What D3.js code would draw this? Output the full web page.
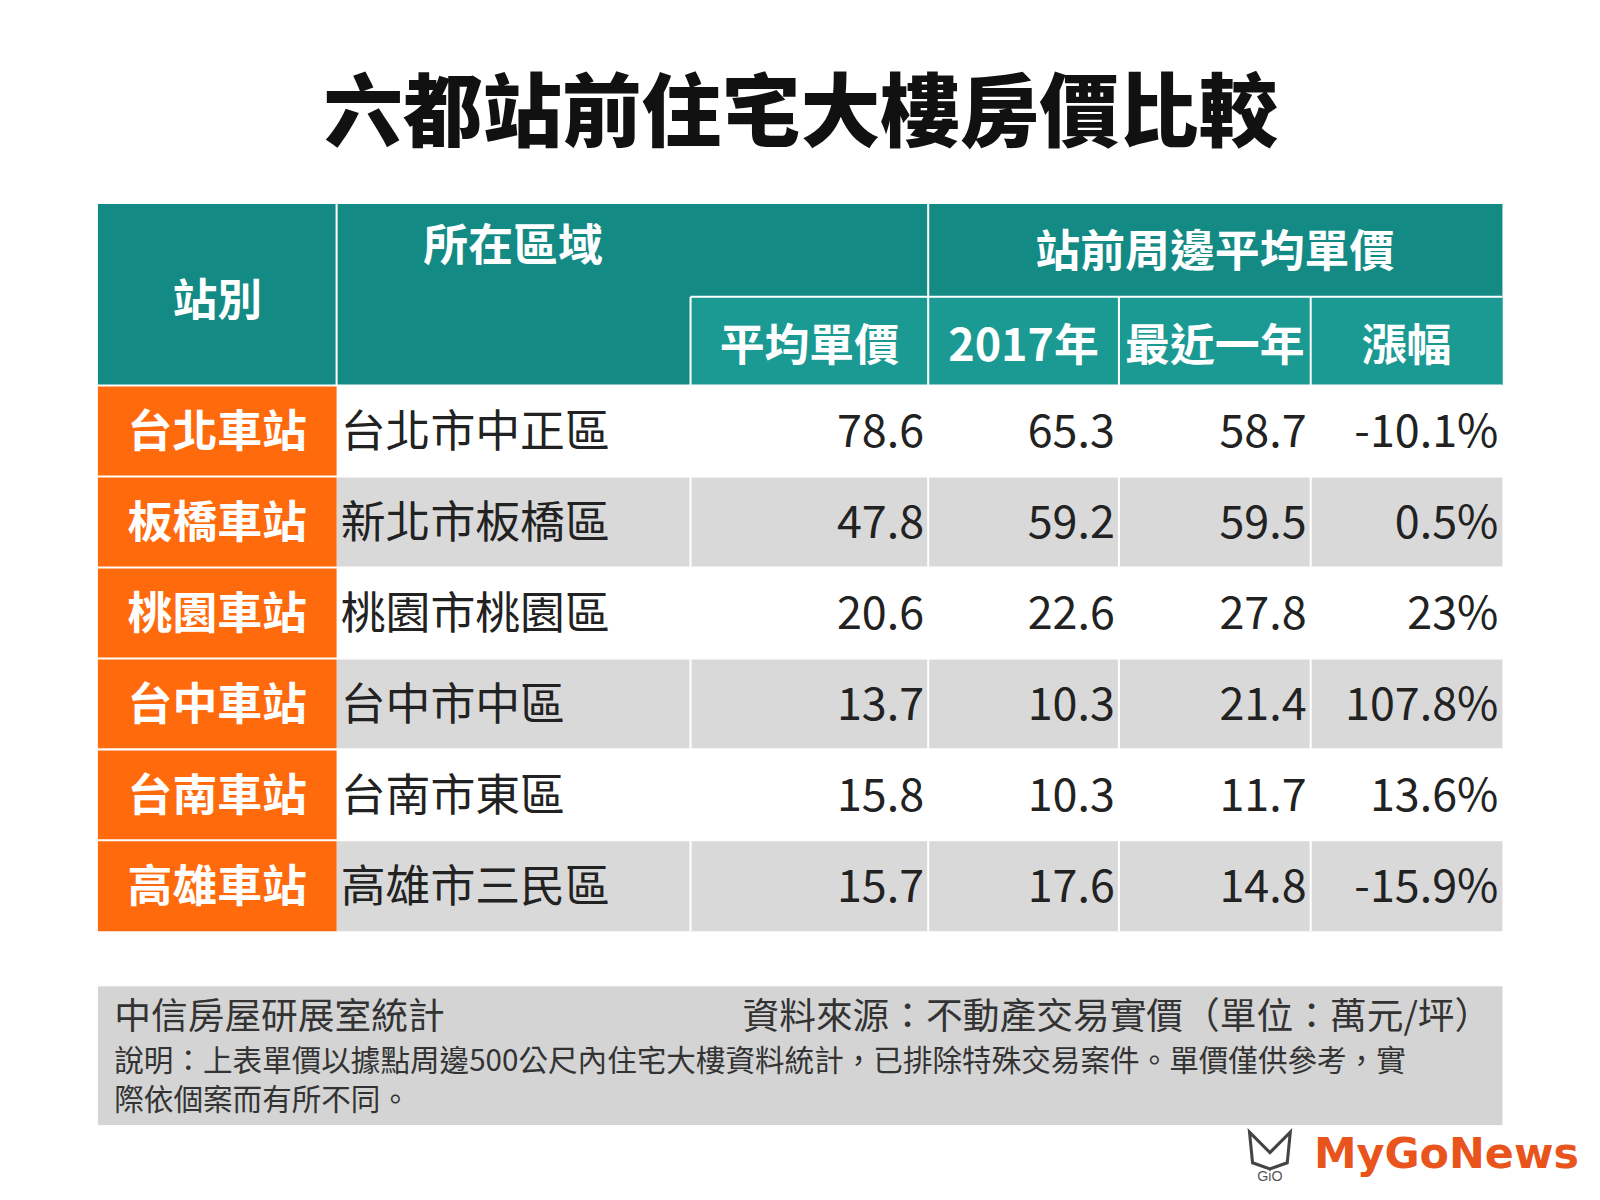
<!DOCTYPE html>
<html><head><meta charset="utf-8">
<script src="https://cdn.jsdelivr.net/npm/d3@7"></script>
<style>body{margin:0;background:#fff}</style></head>
<body><svg id="c" width="1600" height="1200"></svg>
<script>
const stations=["台北車站","板橋車站","桃園車站","台中車站","台南車站","高雄車站"];
const districts=["台北市中正區","新北市板橋區","桃園市桃園區","台中市中區","台南市東區","高雄市三民區"];
const avgPrice=["78.6","47.8","20.6","13.7","15.8","15.7"];
const price2017=["65.3","59.2","22.6","10.3","10.3","17.6"];
const priceRecent=["58.7","59.5","27.8","21.4","11.7","14.8"];
const change=["-10.1%","0.5%","23%","107.8%","13.6%","-15.9%"];
const colHeaders=["平均單價","2017年","最近一年","漲幅"];

const root=d3.select("#c");
const svg=root.append("g").attr("transform","scale(1.02)");
const F="'Noto Sans CJK TC','Noto Sans CJK SC',sans-serif";
const X0=96,X1=1473;
const colX=[96,330,677,910,1097,1285,1473];
const y=d3.scaleBand().domain(d3.range(stations.length)).range([378,913]).paddingInner(0);
const teal="#138a84", teal2="#1a9a93", orange="#ff6a0d", gray="#d9d9d9";

svg.append("text").attr("x",785).attr("y",137).attr("text-anchor","middle")
 .attr("font-family",F).attr("font-weight",900).attr("font-size",78).attr("fill","#111")
 .text("六都站前住宅大樓房價比較");

svg.append("rect").attr("x",X0).attr("y",200).attr("width",X1-X0).attr("height",178).attr("fill",teal);
svg.append("rect").attr("x",677).attr("y",291).attr("width",X1-677).attr("height",87).attr("fill",teal2);
const wl=(x1,y1,x2,y2)=>svg.append("line").attr("x1",x1).attr("y1",y1).attr("x2",x2).attr("y2",y2).attr("stroke","#fff").attr("stroke-width",2);
wl(330,200,330,378); wl(910,200,910,378); wl(910,291,X1,291); wl(677,291,677,378); wl(677,291,910,291);
wl(1097,291,1097,378); wl(1285,291,1285,378);
const ht=(x,yy,t,s)=>svg.append("text").attr("x",x).attr("y",yy).attr("text-anchor","middle").attr("font-family",F)
 .attr("font-weight",700).attr("font-size",s||44).attr("fill","#fff").text(t);
ht(213,310,"站別"); ht(503,256,"所在區域"); ht(1191,262,"站前周邊平均單價");
colHeaders.forEach((h,i)=>ht((colX[i+2]+colX[i+3])/2,354,h));

const rows=svg.selectAll("g.r").data(stations).join("g").attr("class","r")
 .attr("transform",(d,i)=>`translate(0,${y(i)})`);
rows.append("rect").attr("x",330).attr("width",X1-330).attr("height",y.bandwidth())
 .attr("fill",(d,i)=>i%2?gray:"#fff");
rows.append("rect").attr("x",X0).attr("width",234).attr("height",y.bandwidth()).attr("fill",orange);
rows.each(function(d,i){
  const g=d3.select(this);
  [677,910,1097,1285].forEach(x=>g.append("line").attr("x1",x).attr("x2",x).attr("y1",0).attr("y2",y.bandwidth())
    .attr("stroke",i%2?"#fff":"none").attr("stroke-width",2));
});
rows.append("line").attr("x1",X0).attr("x2",X1).attr("y1",0).attr("y2",0).attr("stroke","#fff").attr("stroke-width",2);
const cy=y.bandwidth()/2+16;
rows.append("text").attr("x",213).attr("y",cy).attr("text-anchor","middle").attr("font-family",F)
 .attr("font-weight",700).attr("font-size",44).attr("fill","#fff").text(d=>d);
rows.append("text").attr("x",334).attr("y",cy).attr("font-family",F).attr("font-weight",400)
 .attr("font-size",44).attr("fill","#222").text((d,i)=>districts[i]);
[avgPrice,price2017,priceRecent,change].forEach((arr,k)=>{
  rows.append("text").attr("x",colX[k+3]-4).attr("y",cy).attr("text-anchor","end").attr("font-family",F).attr("font-weight",400)
   .attr("font-size",44).attr("fill","#222").text((d,i)=>arr[i]);
});

svg.append("rect").attr("x",X0).attr("y",967).attr("width",X1-X0).attr("height",136).attr("fill","#d4d4d4");
const ft=(x,yy,t,s,a)=>svg.append("text").attr("x",x).attr("y",yy).attr("text-anchor",a||"start").attr("font-family",F)
 .attr("font-size",s).attr("fill","#333").text(t);
ft(112,1009,"中信房屋研展室統計",36);
ft(1462,1009,"資料來源：不動產交易實價（單位：萬元/坪）",36,"end");
ft(112,1050,"說明：上表單價以據點周邊500公尺內住宅大樓資料統計，已排除特殊交易案件。單價僅供參考，實",29);
ft(112,1088,"際依個案而有所不同。",29);

svg.append("text").attr("x",1548).attr("y",1145).attr("text-anchor","end").attr("font-family","'DejaVu Sans',sans-serif")
 .attr("font-weight",700).attr("font-size",42).attr("fill","#e8541c").text("MyGoNews");
svg.append("text").attr("x",1245).attr("y",1158).attr("text-anchor","middle").attr("font-family","sans-serif")
 .attr("font-size",14).attr("fill","#555").text("GiO");
svg.append("path").attr("d","M1225,1110 L1245,1130 L1265,1110 L1262,1140 L1245,1146 L1228,1140 Z")
 .attr("fill","none").attr("stroke","#444").attr("stroke-width",3);
</script></body></html>
